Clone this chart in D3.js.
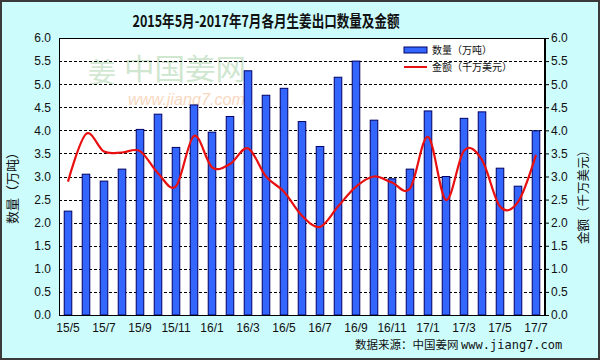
<!DOCTYPE html>
<html><head><meta charset="utf-8">
<script src="https://cdn.jsdelivr.net/npm/d3@7"></script>
<style>html,body{margin:0;padding:0;background:#fff;}svg{display:block;}</style>
</head><body>
<svg id="c" width="600" height="360"></svg>
<script>
const months = ["15/5","15/6","15/7","15/8","15/9","15/10","15/11","15/12","16/1","16/2","16/3","16/4","16/5","16/6","16/7","16/8","16/9","16/10","16/11","16/12","17/1","17/2","17/3","17/4","17/5","17/6","17/7"];
const quantity = [2.25,3.05,2.90,3.16,4.02,4.35,3.63,4.55,3.96,4.30,5.29,4.76,4.91,4.19,3.65,5.15,5.50,4.22,2.95,3.16,4.42,3.00,4.26,4.40,3.18,2.79,3.99];
const amount = [2.89,3.92,3.54,3.52,3.55,3.07,2.79,3.88,3.20,3.27,3.61,3.00,2.67,2.15,1.91,2.35,2.78,3.00,2.87,2.74,3.86,2.49,3.56,3.36,2.35,2.45,3.47];
const yTicks = [0,0.5,1,1.5,2,2.5,3,3.5,4,4.5,5,5.5,6];
const xTickLabels = ["15/5","15/7","15/9","15/11","16/1","16/3","16/5","16/7","16/9","16/11","17/1","17/3","17/5","17/7"];

const svg = d3.select("#c");
const W = 600, H = 360;
const L = 59, R = 545, T = 38, B = 315;

svg.append("rect").attr("x",1).attr("y",1).attr("width",W-2).attr("height",H-2)
  .attr("fill","#ccfcfc").attr("stroke","#3a3a3a").attr("stroke-width",2);

svg.append("text").attr("x",266).attr("y",27).attr("text-anchor","middle")
  .attr("font-family","'Noto Sans CJK SC', sans-serif").attr("font-weight","bold")
  .attr("font-size",16).attr("textLength",267).attr("lengthAdjust","spacingAndGlyphs")
  .attr("fill","#111").text("2015年5月-2017年7月各月生姜出口数量及金额");

const x = d3.scaleBand().domain(months).range([L,R]).paddingInner(0.58).paddingOuter(0.29);
const yL = d3.scaleLinear().domain([0,6]).range([B,T]);
const yR = d3.scaleLinear().domain([0,6]).range([B,T]);

svg.append("rect").attr("x",L).attr("y",T).attr("width",R-L).attr("height",B-T).attr("fill","#fff");

// watermark
const wm = svg.append("g");
wm.append("text").attr("x",88).attr("y",83).attr("font-family","'Noto Sans CJK SC', sans-serif")
  .attr("font-size",28).attr("fill","#d2e8d2").text("姜");
wm.append("text").attr("x",124).attr("y",80).attr("font-family","'Noto Sans CJK SC', sans-serif")
  .attr("font-size",29).attr("textLength",122).attr("lengthAdjust","spacingAndGlyphs").attr("fill","#cfe6cf").text("中国姜网");
wm.append("text").attr("x",128).attr("y",105).attr("font-family","Arial, sans-serif").attr("font-style","italic")
  .attr("font-size",17).attr("textLength",117).attr("lengthAdjust","spacingAndGlyphs").attr("fill","#f8d8c0").text("www.jiang7.com");

// grid
svg.append("g").selectAll("line").data(yTicks.filter(d=>d>0&&d<6)).join("line")
  .attr("x1",L).attr("x2",R).attr("y1",d=>Math.round(yL(d))+0.5).attr("y2",d=>Math.round(yL(d))+0.5)
  .attr("stroke","#000").attr("stroke-width",1).attr("stroke-dasharray","3,2");

// bars
svg.append("g").selectAll("rect").data(quantity).join("rect")
  .attr("x",(d,i)=>x(months[i])).attr("width",x.bandwidth())
  .attr("y",d=>yL(d)).attr("height",d=>B-yL(d))
  .attr("fill","#3366ff").attr("stroke","#000066").attr("stroke-width",1);

// line
const line = d3.line().x((d,i)=>x(months[i])+x.bandwidth()/2).y(d=>yR(d)).curve(d3.curveCardinal.tension(0));
svg.append("path").datum(amount).attr("d",line).attr("fill","none").attr("stroke","#e81010").attr("stroke-width",2.2);

// frame
svg.append("rect").attr("x",L+0.5).attr("y",T+0.5).attr("width",R-L-1).attr("height",B-T).attr("fill","none").attr("stroke","#000").attr("stroke-width",1);

// left axis
const axL = d3.axisLeft(yL).tickValues(yTicks).tickFormat(d3.format(".1f")).tickSize(0).tickPadding(8);
const gL = svg.append("g").attr("transform",`translate(${L},0)`).call(axL);
gL.select(".domain").remove();
gL.selectAll("text").attr("font-family","Arial, 'Liberation Sans', sans-serif").attr("font-size",12).attr("fill","#111");

// right axis
const axR = d3.axisRight(yR).tickValues(yTicks).tickFormat(d3.format(".1f")).tickSize(4).tickPadding(2);
const gR = svg.append("g").attr("transform",`translate(${R},0)`).call(axR);
gR.select(".domain").attr("stroke","#000");
gR.selectAll("line").attr("stroke","#000");
gR.selectAll("text").attr("font-family","Arial, 'Liberation Sans', sans-serif").attr("font-size",12).attr("fill","#111");

// bottom axis labels
const axB = d3.axisBottom(x).tickValues(xTickLabels).tickSize(0).tickPadding(8);
const gB = svg.append("g").attr("transform",`translate(0,${B})`).call(axB);
gB.select(".domain").remove();
gB.selectAll("text").attr("font-family","Arial, 'Liberation Sans', sans-serif").attr("font-size",12).attr("fill","#111");

// axis titles
svg.append("text").attr("transform","translate(17,185) rotate(-90)").attr("text-anchor","middle")
  .attr("font-family","'Noto Sans CJK SC', sans-serif").attr("font-size",13).attr("fill","#111").text("数量（万吨）");
svg.append("text").attr("transform","translate(588,194) rotate(-90)").attr("text-anchor","middle")
  .attr("font-family","'Noto Sans CJK SC', sans-serif").attr("font-size",12.5).attr("fill","#111").text("金额（千万美元）");

// legend
const lg = svg.append("g");
lg.append("rect").attr("x",404).attr("y",47).attr("width",23).attr("height",6).attr("fill","#3366ff").attr("stroke","#000066");
lg.append("text").attr("x",432).attr("y",54).attr("font-family","'Noto Sans CJK SC', sans-serif").attr("font-size",10).attr("fill","#111").text("数量（万吨）");
lg.append("line").attr("x1",404).attr("x2",427).attr("y1",67).attr("y2",67).attr("stroke","#e81010").attr("stroke-width",2);
lg.append("text").attr("x",432).attr("y",71).attr("font-family","'Noto Sans CJK SC', sans-serif").attr("font-size",10).attr("fill","#111").text("金额（千万美元）");

// source
svg.append("text").attr("x",355).attr("y",349).attr("font-family","'Noto Sans CJK SC', sans-serif").attr("font-size",11.5).attr("fill","#111")
  .text("数据来源：中国姜网 ")
  .append("tspan").attr("font-family","'DejaVu Sans Mono', 'Liberation Mono', monospace").attr("font-size",12).text("www.jiang7.com");
</script>
</body></html>
